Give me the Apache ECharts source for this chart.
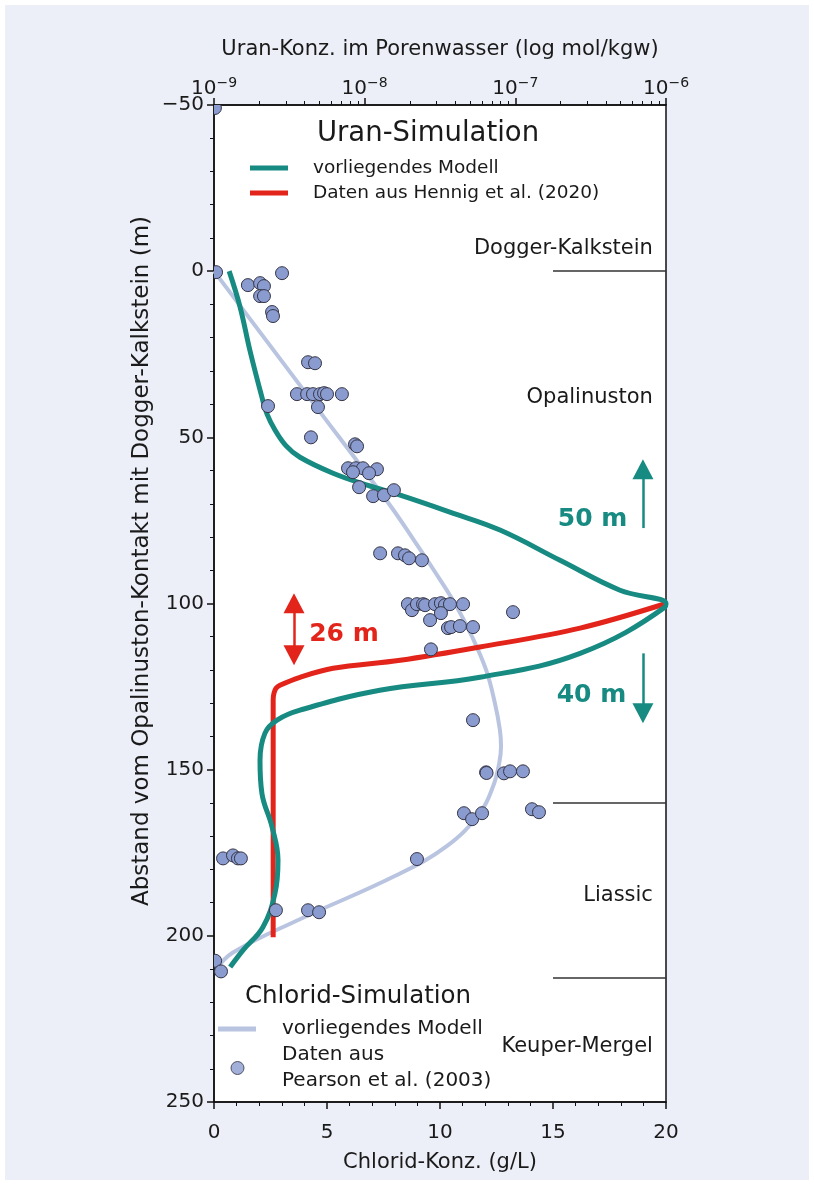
<!DOCTYPE html>
<html><head><meta charset="utf-8">
<script src="https://cdn.jsdelivr.net/npm/echarts@6/dist/echarts.min.js"></script>
<style>
html,body{margin:0;padding:0;background:#fff;}
#frame{position:absolute;left:5px;top:5px;width:804px;height:1175px;background:#eceff8;}
#chart{position:absolute;left:0;top:0;width:814px;height:1185px;}
</style></head>
<body><div id="frame"></div><div id="chart"></div>
<script>
// ---------- DATA ----------
// Chlorid model (g/L) vs depth (m)
const clModelDepth = [0, 40, 70, 81, 90, 100, 110, 120, 130, 138, 143, 148, 155, 163, 173, 182, 195, 205, 210];
const clModelConc  = [0, 4.43, 7.74, 8.85, 9.73, 10.66, 11.42, 12.04, 12.43, 12.65, 12.7, 12.62, 12.35, 11.77, 10.3, 8.0, 3.8, 0.84, 0.1];
// Chlorid data, Pearson et al. (2003)
const clDataConc  = [0.04, 0.09, 1.50, 2.04, 2.21, 2.04, 2.21, 3.01, 2.57, 2.61, 4.16, 4.47, 3.67, 4.12, 4.38, 4.69, 4.87, 5.00, 5.66, 4.60, 2.39, 4.29, 6.24, 6.33, 5.93, 6.28, 6.59, 7.21, 6.15, 6.86, 6.42, 7.04, 7.52, 7.96, 7.35, 8.14, 8.45, 8.63, 9.20, 8.58, 8.76, 8.98, 9.25, 9.34, 9.78, 10.04, 10.22, 10.44, 11.02, 10.04, 9.56, 10.35, 10.49, 10.88, 11.46, 13.23, 9.60, 11.46, 12.04, 12.06, 12.83, 13.10, 13.67, 11.06, 11.42, 11.86, 14.07, 14.38, 8.98, 0.40, 0.84, 1.06, 1.19, 2.74, 4.16, 4.65, 0.05, 0.31];
const clDataDepth = [-49.1, 0.3, 4.2, 3.6, 4.5, 7.5, 7.5, 0.6, 12.3, 13.5, 27.4, 27.7, 37.0, 37.0, 37.0, 37.0, 36.7, 37.0, 37.0, 40.9, 40.6, 50.0, 52.1, 52.7, 59.3, 59.3, 59.3, 59.6, 60.5, 60.8, 65.0, 67.7, 67.4, 65.9, 84.9, 84.9, 85.5, 86.4, 87.0, 100.2, 102.0, 100.2, 100.2, 100.5, 100.2, 99.9, 100.5, 100.2, 100.2, 102.9, 105.0, 107.4, 107.1, 106.8, 107.1, 102.6, 113.8, 135.1, 150.8, 151.0, 151.1, 150.5, 150.5, 163.1, 164.9, 163.1, 161.9, 162.8, 176.9, 176.7, 175.8, 176.7, 176.7, 192.3, 192.3, 192.9, 207.5, 210.7];
// Uran model (mol/kgw) vs depth (m)
const uModelDepth = [0, 10.8, 23.8, 37.9, 43.0, 47.8, 52.5, 56.0, 60.8, 64.4, 67.4, 72.5, 77.9, 87.0, 96.0, 100, 101.1, 115, 122.2, 126.1, 132.1, 135.1, 139, 147.2, 157.1, 167.3, 177.2, 187.2, 197.4, 204.3, 209.4];
const uModelConc  = [1.26e-9, 1.49e-9, 1.73e-9, 2.08e-9, 2.25e-9, 2.54e-9, 3.0e-9, 3.72e-9, 6.17e-9, 1.04e-8, 1.72e-8, 3.68e-8, 7.91e-8, 1.98e-7, 4.95e-7, 1e-6, 9.84e-7, 2.69e-7, 5.82e-8, 1.26e-8, 3.72e-9, 2.62e-9, 2.18e-9, 2.02e-9, 2.08e-9, 2.43e-9, 2.66e-9, 2.54e-9, 2.11e-9, 1.56e-9, 1.28e-9];
// Uran, Hennig et al. (2020)
const hDepth = [100, 107.4, 113.1, 117.1, 119.5, 122.2, 124.6, 125.5, 127, 129, 200.4];
const hConc  = [1e-6, 2.69e-7, 5.82e-8, 1.72e-8, 6.17e-9, 3.72e-9, 2.74e-9, 2.58e-9, 2.5e-9, 2.47e-9, 2.47e-9];
// Axis ticks
const depthTicks = [-50, 0, 50, 100, 150, 200, 250];
const clTicks = [0, 5, 10, 15, 20];
const uTicks = [1e-9, 1e-8, 1e-7, 1e-6];
// Layer boundaries (depth, m) and labels
const boundaries = [0, 160, 212.5];
const layerNames = ['Dogger-Kalkstein', 'Opalinuston', 'Liassic', 'Keuper-Mergel'];
const layerLabelDepth = [-6.9, 37.9, 187.8, 233.2];
// Annotations
const annoTexts = ['50 m', '40 m', '26 m'];

// ---------- CHART ----------
const TEAL = '#178a82', RED = '#e3241b', LIGHT = '#b9c4e1', DOT = '#8a9bd0', EDGE = '#353545';
const FONT = 'DejaVu Sans';
const chart = echarts.init(document.getElementById('chart'), null, {renderer: 'canvas'});
const zip = (a, b) => a.map((v, i) => [v, b[i]]);
const nameMap = {'U-Modell': 'vorliegendes Modell', 'U-Hennig': 'Daten aus Hennig et al. (2020)',
  'Cl-Modell': 'vorliegendes Modell', 'Cl-Daten': 'Daten aus\nPearson et al. (2003)'};

const axisCommon = {
  axisLine: {show: true, onZero: false, lineStyle: {color: '#111', width: 1.5}},
  axisTick: {show: true, inside: false, length: 7, lineStyle: {color: '#111', width: 1.5}},
  minorTick: {show: true, length: 4, lineStyle: {color: '#111', width: 1}},
  splitLine: {show: false},
  axisLabel: {color: '#1a1a1a', fontSize: 20, fontFamily: FONT},
  nameTextStyle: {color: '#1a1a1a', fontSize: 21, fontFamily: FONT}
};

const option = {
  animation: false,
  textStyle: {fontFamily: FONT},
  grid: {left: 214, top: 105, right: 148, bottom: 83, show: true, backgroundColor: '#fff', borderColor: '#111', borderWidth: 1.5},
  title: [
    {text: 'Uran-Simulation', left: 428, top: 120, textAlign: 'center', padding: 0,
     textStyle: {fontSize: 27.5, fontWeight: 'normal', color: '#1a1a1a', fontFamily: FONT}},
    {text: 'Chlorid-Simulation', left: 358, top: 984, textAlign: 'center', padding: 0,
     textStyle: {fontSize: 24.5, fontWeight: 'normal', color: '#1a1a1a', fontFamily: FONT}}
  ],
  legend: [
    {data: ['U-Modell', 'U-Hennig'], orient: 'vertical', left: 250, top: 155.5, padding: 0, itemGap: 0,
     itemWidth: 38, itemHeight: 5, icon: 'rect', selectedMode: false, formatter: n => nameMap[n],
     textStyle: {fontSize: 18.5, lineHeight: 25, color: '#1a1a1a', fontFamily: FONT, padding: [0, 0, 0, 20]}},
    {data: ['Cl-Modell'], orient: 'vertical', left: 218, top: 1016.5, padding: 0, itemGap: 0,
     itemWidth: 38, itemHeight: 5, icon: 'rect', selectedMode: false, formatter: n => nameMap[n],
     textStyle: {fontSize: 20, lineHeight: 25, color: '#1a1a1a', fontFamily: FONT, padding: [0, 0, 0, 21]}},
    {data: ['Cl-Daten'], orient: 'vertical', left: 230.5, top: 1042, padding: 0, itemGap: 0,
     itemWidth: 13, itemHeight: 13, icon: 'circle', selectedMode: false, formatter: n => nameMap[n],
     itemStyle: {color: DOT, borderColor: EDGE, borderWidth: 1},
     textStyle: {fontSize: 20, lineHeight: 26, color: '#1a1a1a', fontFamily: FONT, padding: [0, 0, 0, 33]}}
  ],
  xAxis: [
    Object.assign({}, axisCommon, {
      type: 'value', position: 'bottom', min: clTicks[0], max: clTicks[clTicks.length - 1], interval: 5,
      minorTick: Object.assign({}, axisCommon.minorTick, {splitNumber: 5}),
      axisLabel: Object.assign({}, axisCommon.axisLabel, {margin: 21}),
      name: 'Chlorid-Konz. (g/L)', nameLocation: 'middle', nameGap: 50
    }),
    Object.assign({}, axisCommon, {
      type: 'log', logBase: 10, position: 'top', min: uTicks[0], max: uTicks[uTicks.length - 1],
      minorTick: Object.assign({}, axisCommon.minorTick, {splitNumber: 9}),
      axisLabel: Object.assign({}, axisCommon.axisLabel, {margin: 3,
        formatter: v => '{b|10}{s|−' + Math.abs(Math.round(Math.log10(v))) + '}',
        rich: {b: {fontSize: 20, fontFamily: FONT, color: '#1a1a1a'},
               s: {fontSize: 14, fontFamily: FONT, color: '#1a1a1a', padding: [0, 0, 12, 0]}}}),
      name: 'Uran-Konz. im Porenwasser (log mol/kgw)', nameLocation: 'middle', nameGap: 45
    })
  ],
  yAxis: [
    Object.assign({}, axisCommon, {
      type: 'value', inverse: true, min: depthTicks[0], max: depthTicks[depthTicks.length - 1], interval: 50,
      minorTick: Object.assign({}, axisCommon.minorTick, {splitNumber: 5}),
      axisLabel: Object.assign({}, axisCommon.axisLabel, {margin: 10, formatter: v => v < 0 ? '−' + Math.abs(v) : String(v)})
    })
  ],
  series: [
    {name: 'Cl-Modell', type: 'line', xAxisIndex: 0, yAxisIndex: 0, data: zip(clModelConc, clModelDepth),
     smooth: 0.4, showSymbol: false, symbol: 'none', color: LIGHT, lineStyle: {color: LIGHT, width: 4}, z: 2,
     markLine: {silent: true, symbol: 'none', label: {show: false}, lineStyle: {color: '#333', width: 1.5, type: 'solid'},
       data: boundaries.map(d => [{coord: [15, d]}, {coord: [20, d]}])}},
    {name: 'U-Hennig', type: 'line', xAxisIndex: 1, yAxisIndex: 0, data: zip(hConc, hDepth),
     smooth: 0.35, showSymbol: false, symbol: 'none', color: RED, lineStyle: {color: RED, width: 5}, z: 3},
    {name: 'U-Modell', type: 'line', xAxisIndex: 1, yAxisIndex: 0, data: zip(uModelConc, uModelDepth),
     smooth: 0.4, showSymbol: false, symbol: 'none', color: TEAL, lineStyle: {color: TEAL, width: 5}, z: 4},
    // legend entry for the data points
    {name: 'Cl-Daten', type: 'scatter', xAxisIndex: 0, yAxisIndex: 0, data: [],
     symbolSize: 13, color: DOT, itemStyle: {color: DOT, borderColor: EDGE, borderWidth: 1}},
    // the data points themselves, clipped to the plot area
    {name: 'Cl-Punkte', type: 'custom', xAxisIndex: 0, yAxisIndex: 0, clip: true, z: 5,
     data: zip(clDataConc, clDataDepth), encode: {x: 0, y: 1},
     renderItem: (params, api) => {
       const p = api.coord([api.value(0), api.value(1)]);
       return {type: 'circle', shape: {cx: p[0], cy: p[1], r: 6.5},
               style: {fill: DOT, stroke: EDGE, lineWidth: 1}};
     }},
    {name: 'annot', type: 'line', xAxisIndex: 0, yAxisIndex: 0, data: [], z: 6,
     markLine: {silent: true, label: {show: false}, symbolSize: [21, 20],
       data: [
         [{coord: [18.98, 77.3], symbol: 'none', lineStyle: {color: TEAL, width: 2.5, type: 'solid'}},
          {coord: [18.98, 59.6], symbol: 'triangle'}],
         [{coord: [18.98, 115], symbol: 'none', lineStyle: {color: TEAL, width: 2.5, type: 'solid'}},
          {coord: [18.98, 133], symbol: 'triangle'}],
         [{coord: [3.54, 99.9], symbol: 'triangle', lineStyle: {color: RED, width: 2.5, type: 'solid'}},
          {coord: [3.54, 115.6], symbol: 'triangle'}]
       ]},
     markPoint: {silent: true, symbol: 'circle', symbolSize: 0,
       label: {show: true, position: 'inside', formatter: p => p.name, fontSize: 25, fontWeight: 'bold', fontFamily: FONT},
       data: [
         {name: annoTexts[0], coord: [16.75, 74.6], label: {color: TEAL}},
         {name: annoTexts[1], coord: [16.7, 127.6], label: {color: TEAL}},
         {name: annoTexts[2], coord: [5.75, 109.2], label: {color: RED}}
       ].concat(layerNames.map((n, i) => ({name: n, coord: [19.42, layerLabelDepth[i]],
         label: {color: '#1a1a1a', fontSize: 21, fontWeight: 'normal', align: 'right'}})))
     }}
  ],
  graphic: [
    {type: 'text', x: 142, y: 561, rotation: Math.PI / 2,
     style: {text: 'Abstand vom Opalinuston-Kontakt mit Dogger-Kalkstein (m)', font: '23px "DejaVu Sans"',
             fill: '#1a1a1a', textAlign: 'center', textVerticalAlign: 'middle'}}
  ]
};
chart.setOption(option);
</script>
</body></html>
